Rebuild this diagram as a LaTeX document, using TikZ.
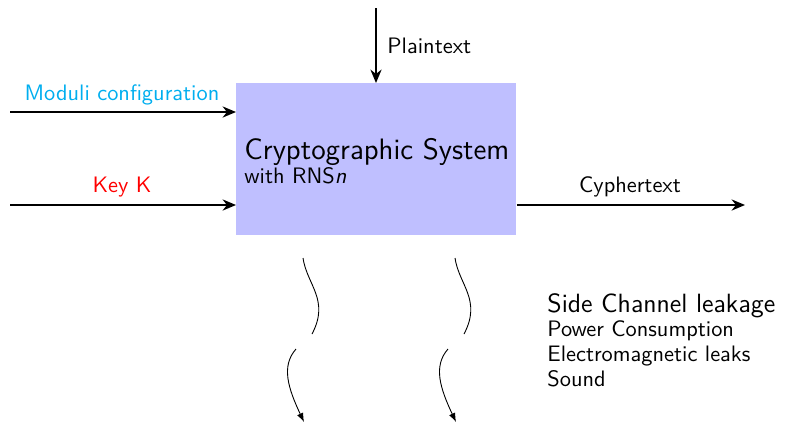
\documentclass[tikz,border=0pt]{standalone}
\usetikzlibrary{arrows.meta}
\renewcommand{\familydefault}{\sfdefault}
\definecolor{moduliblue}{RGB}{0,174,239}
\definecolor{boxfill}{RGB}{191,191,255}
\newcommand{\headsize}{\fontsize{13.2}{15}\selectfont}
\newcommand{\sidesize}{\fontsize{11.8}{14}\selectfont}
\tikzset{
  flow/.style={thick,-{Stealth[length=6pt,width=5pt]}},
  leak/.style={thin,-{Latex[length=4pt,width=3pt]}},
  lbl/.style={inner sep=0pt,font=\normalsize},
}
\begin{document}
\begin{tikzpicture}[x=0.447pt,y=-0.447pt]
\useasboundingbox (0,0) rectangle (785,425);
% central system block
\node[draw=none,fill=boxfill,minimum width=280*0.447pt,minimum height=152*0.447pt,inner sep=0pt,anchor=north west] (sys) at (236,83) {};
\node[inner sep=0pt,anchor=west,align=left] (title) at (244,161)
  {{\headsize Cryptographic System}\\[-1pt]with RNS\textit{n}};
% inputs
\coordinate (pt) at (376,8);
\coordinate (mod) at (10,112);
\coordinate (key) at (10,205);
\coordinate (cyph) at (745,205);
\draw[flow] (pt) -- (376,83) coordinate (ptin);
\node[lbl,anchor=west] (ptlbl) at (387,46) {Plaintext};
\draw[flow] (mod) -- (sys.west |- mod) coordinate (modin);
\node[lbl,text=moduliblue] (modlbl) at (122,95) {Moduli configuration};
\draw[flow] (key) -- (sys.west |- key) coordinate (keyin);
\node[lbl,text=red] (keylbl) at (122,187) {Key K};
\draw[flow] (sys.east |- cyph) -- (cyph);
\node[lbl] (cyphlbl) at (630,187) {Cyphertext};
% side channel leakage
\foreach \dx/\n in {0/a,152/b}{
  \begin{scope}[xshift=\dx*0.447pt]
    \coordinate (\n top) at (303,258);
    \coordinate (\n mid) at (312,334);
    \coordinate (\n low) at (296,349);
    \coordinate (\n end) at (304,422);
    \draw[thin] (\n top) .. controls (307,285) and (330,300) .. (\n mid);
    \draw[leak] (\n low) .. controls (281,366) and (288,388) .. (\n end);
  \end{scope}
}
\node[inner sep=0pt,anchor=north west,align=left] (side) at (547,293)
  {{\sidesize Side Channel leakage}\\[-1pt]Power Consumption\\[-1pt]Electromagnetic leaks\\[-1pt]Sound};
\end{tikzpicture}
\end{document}
